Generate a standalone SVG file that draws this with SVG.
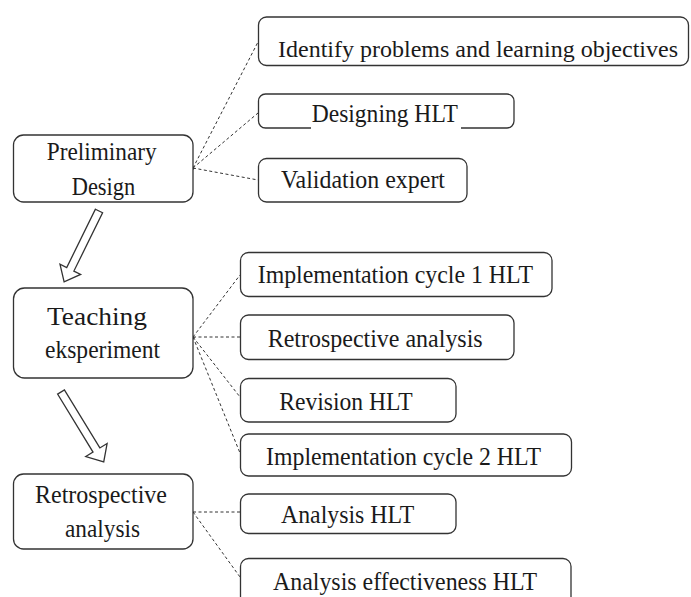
<svg xmlns="http://www.w3.org/2000/svg" width="691" height="597" viewBox="0 0 691 597">
<style>
  .box { fill: #ffffff; stroke: #333333; stroke-width: 1.3; }
  .t { font-family: "Liberation Serif", "Times New Roman", serif; font-size: 25px; fill: #1a1a1a; }
  .c { fill: none; stroke: #333333; stroke-width: 1; stroke-dasharray: 3 2.5; }
  .arrow { fill: #ffffff; stroke: #333333; stroke-width: 1.3; stroke-linejoin: miter; }
</style>
<defs>
  <marker id="tick" viewBox="0 0 6 6" refX="1" refY="3" markerWidth="4" markerHeight="4" orient="auto-start-reverse">
    <path d="M0,0 L6,3 L0,6 z" fill="#333333"/>
  </marker>
</defs>
<rect width="691" height="597" fill="#ffffff"/>

<g id="connectors">
  <line class="c" x1="193" y1="168" x2="258" y2="42" marker-start="url(#tick)"/>
  <line class="c" x1="193" y1="168" x2="258" y2="113"/>
  <line class="c" x1="193" y1="168" x2="258" y2="180"/>
  <line class="c" x1="193" y1="337" x2="240" y2="275" marker-start="url(#tick)"/>
  <line class="c" x1="193" y1="337" x2="240" y2="337"/>
  <line class="c" x1="193" y1="337" x2="240" y2="397"/>
  <line class="c" x1="193" y1="337" x2="240" y2="453"/>
  <line class="c" x1="193" y1="512" x2="240" y2="512"/>
  <line class="c" x1="193" y1="512" x2="240" y2="577"/>
  <polygon id="arrow1" class="arrow" transform="translate(99,211) rotate(26.2)" points="-4,0 4,0 4,65 11.5,65 0,79 -11.5,65 -4,65"/>
  <polygon id="arrow2" class="arrow" transform="translate(61,392) rotate(-31.4)" points="-4,0 4,0 4,68 12.5,68 0,82 -12.5,68 -4,68"/>
</g>

<g id="n-preliminary">
  <rect class="box" x="13.5" y="135" width="179.5" height="67" rx="10"/>
  <text class="t" x="46.7" y="160" textLength="110" lengthAdjust="spacingAndGlyphs">Preliminary</text>
  <text class="t" x="71.7" y="195" textLength="63.5" lengthAdjust="spacingAndGlyphs">Design</text>
</g>
<g id="n-teaching">
  <rect class="box" x="13.5" y="288" width="179.5" height="90" rx="11"/>
  <text class="t" x="47" y="325" textLength="100" lengthAdjust="spacingAndGlyphs">Teaching</text>
  <text class="t" x="45" y="358" textLength="115" lengthAdjust="spacingAndGlyphs">eksperiment</text>
</g>
<g id="n-retro-left">
  <rect class="box" x="13.5" y="474" width="179.5" height="75" rx="10"/>
  <text class="t" x="35" y="503" textLength="132" lengthAdjust="spacingAndGlyphs">Retrospective</text>
  <text class="t" x="65" y="537" textLength="75" lengthAdjust="spacingAndGlyphs">analysis</text>
</g>

<g id="n-identify">
  <rect class="box" x="258.5" y="17" width="430" height="48.5" rx="8"/>
  <text class="t" x="278" y="56.5" style="font-size:24px" textLength="400" lengthAdjust="spacingAndGlyphs">Identify problems and learning objectives</text>
</g>
<g id="n-designing">
  <rect class="box" x="258.5" y="94" width="255.5" height="34" rx="7"/>
  <rect x="311" y="126.5" width="150" height="3" fill="#ffffff"/>
  <text class="t" x="311.7" y="121.5" textLength="146.3" lengthAdjust="spacingAndGlyphs">Designing HLT</text>
</g>
<g id="n-validation">
  <rect class="box" x="258.5" y="158.5" width="208.5" height="43.5" rx="8"/>
  <text class="t" x="281" y="188" textLength="164" lengthAdjust="spacingAndGlyphs">Validation expert</text>
</g>
<g id="n-impl1">
  <rect class="box" x="240.5" y="252.5" width="311.5" height="44" rx="8"/>
  <text class="t" x="257.7" y="283.3" textLength="275.3" lengthAdjust="spacingAndGlyphs">Implementation cycle 1 HLT</text>
</g>
<g id="n-retro">
  <rect class="box" x="240.5" y="315" width="273.5" height="44.5" rx="8"/>
  <text class="t" x="267.7" y="346.5" textLength="215" lengthAdjust="spacingAndGlyphs">Retrospective analysis</text>
</g>
<g id="n-revision">
  <rect class="box" x="240.5" y="378.5" width="215.5" height="43.5" rx="8"/>
  <text class="t" x="279.3" y="410" textLength="133.4" lengthAdjust="spacingAndGlyphs">Revision HLT</text>
</g>
<g id="n-impl2">
  <rect class="box" x="240.5" y="434" width="331" height="42" rx="8"/>
  <text class="t" x="266" y="465" textLength="275" lengthAdjust="spacingAndGlyphs">Implementation cycle 2 HLT</text>
</g>
<g id="n-analysis">
  <rect class="box" x="240.5" y="494" width="215.5" height="39.5" rx="8"/>
  <text class="t" x="281" y="523.3" textLength="133.3" lengthAdjust="spacingAndGlyphs">Analysis HLT</text>
</g>
<g id="n-effectiveness">
  <rect class="box" x="240.5" y="558.5" width="330.5" height="50" rx="8"/>
  <text class="t" x="273" y="590" textLength="264" lengthAdjust="spacingAndGlyphs">Analysis effectiveness HLT</text>
</g>
</svg>
